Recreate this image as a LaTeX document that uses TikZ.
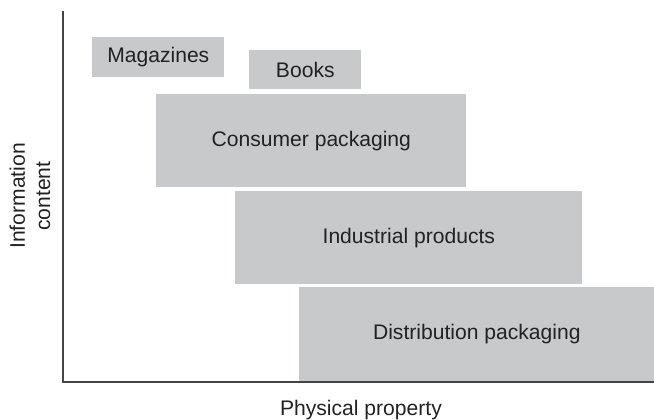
\documentclass[tikz,border=0pt]{standalone}
\usepackage{fontspec}
\setmainfont{Liberation Sans}
\usepackage{tikz}
\usetikzlibrary{positioning}
\usepackage{xcolor}
\definecolor{boxgray}{RGB}{200,201,203}
\definecolor{txtgray}{RGB}{34,34,34}
\definecolor{axisgray}{RGB}{68,68,68}

\begin{document}
\begin{tikzpicture}[
		x=0.025cm, y=-0.025cm,
		font=\fontsize{15}{18}\selectfont, text=txtgray,
		b/.style = {rectangle, fill=boxgray, inner sep=0pt, anchor=north west},
		ax/.style = {draw=axisgray, line width=1.3pt},
		]
		\useasboundingbox (0, 0) rectangle (654, 420);
		
		% === === Nodes === ===
		\node[b, minimum width=3.3cm,   minimum height=1cm]     (mag)  at (92, 37)   {Magazines};
		\node[b, minimum width=2.8cm,   minimum height=0.975cm] (book) at (249, 50)  {Books};
		\node[b, minimum width=7.75cm,  minimum height=2.325cm] (cons) at (156, 94)  {Consumer packaging};
		\node[b, minimum width=8.675cm, minimum height=2.325cm] (ind)  at (235, 191) {Industrial products};
		\node[b, minimum width=8.875cm, minimum height=2.35cm]  (dist) at (299, 287) {Distribution packaging};
		
		\node[rotate=90, align=center] (ylab) at (30, 196) {Information\\content};
		\node[anchor=base]             (xlab) at (361, 415) {Physical property};
		
		% === === Axes === ===
		\coordinate (ytop) at (63, 11);
		\coordinate (xend) at (654, 382);
		\draw[ax] (ytop) |- (xend);
		
	\end{tikzpicture}
\end{document}
